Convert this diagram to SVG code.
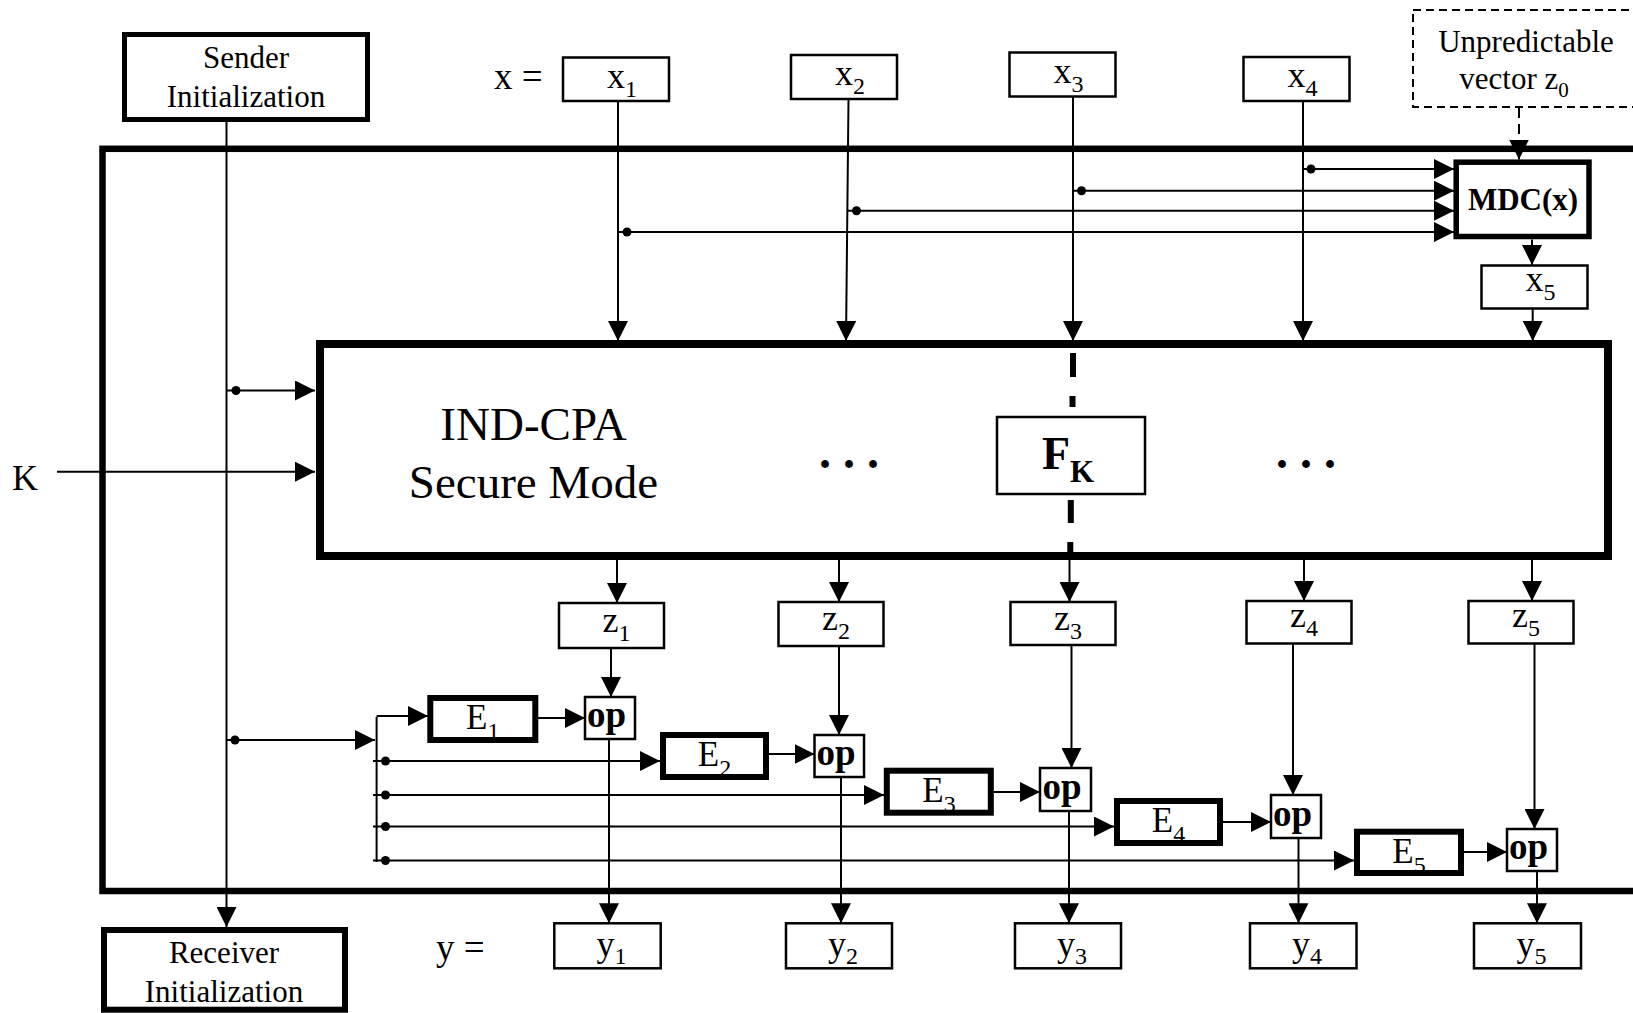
<svg xmlns="http://www.w3.org/2000/svg" width="1633" height="1013" viewBox="0 0 1633 1013">
<style>
text{font-family:"Liberation Serif","Times New Roman",serif;fill:#000}
.lbl{font-size:31px;text-anchor:middle}
.var{font-size:36px;text-anchor:middle}
.sub{font-size:24px}
.bold{font-weight:bold}
.thin{fill:#fff;stroke:#000;stroke-width:2.5}
.thick{fill:#fff;stroke:#000;stroke-width:6}
.ln{stroke:#000;stroke-width:2;fill:none}
.arr{stroke:#000;stroke-width:2;fill:none;marker-end:url(#ah)}
.dot{fill:#000}
</style>
<defs>
<marker id="ah" markerUnits="userSpaceOnUse" markerWidth="20" markerHeight="20" viewBox="0 0 20 20" refX="20" refY="10" orient="auto"><path d="M0,0 L20,10 L0,20 z" fill="#000"/></marker>
</defs>
<rect width="1633" height="1013" fill="#fff"/>

<g id="system-boundary">
<rect x="102.5" y="148.8" width="1600" height="742.2" fill="none" stroke="#000" stroke-width="6.5"/>
</g>

<g id="connectors">
<line class="arr" x1="226.5" y1="122" x2="226.5" y2="927"/>
<circle class="dot" cx="236" cy="390.5" r="4.5"/>
<line class="arr" x1="226.5" y1="390.5" x2="315" y2="390.5"/>
<line class="arr" x1="57" y1="471.7" x2="315" y2="471.7"/>
<circle class="dot" cx="235" cy="740" r="4.5"/>
<line class="arr" x1="226.5" y1="740" x2="375" y2="740"/>
<line class="ln" x1="376.6" y1="717" x2="376.6" y2="862"/>
<line class="arr" x1="376.6" y1="716" x2="428" y2="716"/>
<circle class="dot" cx="385.5" cy="761" r="4.5"/>
<circle class="dot" cx="385.5" cy="795" r="4.5"/>
<circle class="dot" cx="385.5" cy="826.5" r="4.5"/>
<circle class="dot" cx="385.5" cy="860.5" r="4.5"/>
<line class="arr" x1="373" y1="761" x2="660" y2="761"/>
<line class="arr" x1="373" y1="795" x2="884" y2="795"/>
<line class="arr" x1="373" y1="826.5" x2="1114" y2="826.5"/>
<line class="arr" x1="373" y1="860.5" x2="1354" y2="860.5"/>
<line class="arr" x1="618" y1="101" x2="618" y2="341"/>
<line class="arr" x1="848.5" y1="99" x2="846" y2="341"/>
<line class="arr" x1="1073" y1="97" x2="1073" y2="341"/>
<line class="arr" x1="1303" y1="101" x2="1303" y2="341"/>
<circle class="dot" cx="1311" cy="169" r="4.5"/>
<line class="arr" x1="1303" y1="169" x2="1454" y2="169"/>
<circle class="dot" cx="1081.5" cy="190.7" r="4.5"/>
<line class="arr" x1="1073" y1="190.7" x2="1454" y2="190.7"/>
<circle class="dot" cx="856.5" cy="210.7" r="4.5"/>
<line class="arr" x1="847.5" y1="210.7" x2="1454" y2="210.7"/>
<circle class="dot" cx="627" cy="232" r="4.5"/>
<line class="arr" x1="618" y1="232" x2="1454" y2="232"/>
<line class="arr" x1="1519" y1="108" x2="1519" y2="159.5" stroke-dasharray="10 6"/>
<line class="arr" x1="1532" y1="239.5" x2="1532" y2="265"/>
<line class="arr" x1="1532.7" y1="308.5" x2="1532.7" y2="341"/>
<line x1="1073" y1="353" x2="1073" y2="377" stroke="#000" stroke-width="6"/>
<line x1="1072.5" y1="396" x2="1072.5" y2="407" stroke="#000" stroke-width="6"/>
<line x1="1070.8" y1="500" x2="1070.8" y2="523" stroke="#000" stroke-width="6"/>
<line x1="1070.3" y1="542" x2="1070.3" y2="553" stroke="#000" stroke-width="6"/>
<line class="arr" x1="617" y1="560" x2="617" y2="603"/>
<line class="arr" x1="839" y1="560" x2="839" y2="602"/>
<line class="arr" x1="1069.5" y1="553" x2="1069.5" y2="602"/>
<line class="arr" x1="1304" y1="560" x2="1304" y2="601"/>
<line class="arr" x1="1532" y1="560" x2="1532" y2="601"/>
<line class="arr" x1="611" y1="648" x2="611" y2="697"/>
<line class="arr" x1="839" y1="646" x2="839" y2="735"/>
<line class="arr" x1="1071.5" y1="645" x2="1071.5" y2="768"/>
<line class="arr" x1="1293" y1="643.5" x2="1293" y2="795"/>
<line class="arr" x1="1534.5" y1="643.5" x2="1534.5" y2="829"/>
<line class="arr" x1="538" y1="718" x2="585" y2="718"/>
<line class="arr" x1="769" y1="754" x2="814.5" y2="754"/>
<line class="arr" x1="994" y1="792" x2="1040" y2="792"/>
<line class="arr" x1="1223" y1="822" x2="1271" y2="822"/>
<line class="arr" x1="1464" y1="852" x2="1507" y2="852"/>
<line class="arr" x1="609" y1="739" x2="609" y2="923.3"/>
<line class="arr" x1="841" y1="777" x2="841" y2="923.3"/>
<line class="arr" x1="1069" y1="811" x2="1069" y2="923.3"/>
<line class="arr" x1="1298.5" y1="838" x2="1298.5" y2="923.3"/>
<line class="arr" x1="1537" y1="871" x2="1537" y2="923.3"/>
</g>

<g id="sender">
<rect x="124.5" y="34.5" width="243" height="85" fill="#fff" stroke="#000" stroke-width="5"/>
<text class="lbl" x="246" y="68">Sender</text>
<text class="lbl" x="246" y="107">Initialization</text>
</g>

<g id="receiver">
<rect x="104" y="930" width="241" height="79.7" fill="#fff" stroke="#000" stroke-width="6"/>
<text class="lbl" x="224" y="963">Receiver</text>
<text class="lbl" x="224" y="1002">Initialization</text>
</g>

<g id="labels">
<text x="494" y="89" style="font-size:37px">x =</text>
<text x="436" y="960" style="font-size:37px">y =</text>
<text x="12" y="490" style="font-size:36px">K</text>
</g>

<g id="x1"><rect class="thin" x="563" y="57.5" width="106" height="43.5"/><text class="var" x="622" y="88">x<tspan class="sub" dy="9">1</tspan></text></g>
<g id="x2"><rect class="thin" x="791" y="55" width="106" height="44"/><text class="var" x="850" y="85">x<tspan class="sub" dy="9">2</tspan></text></g>
<g id="x3"><rect class="thin" x="1009.5" y="52.5" width="106" height="44"/><text class="var" x="1068.5" y="83">x<tspan class="sub" dy="9">3</tspan></text></g>
<g id="x4"><rect class="thin" x="1243.5" y="57" width="106" height="44"/><text class="var" x="1302.5" y="87">x<tspan class="sub" dy="9">4</tspan></text></g>
<g id="x5"><rect class="thin" x="1481.5" y="265.5" width="106" height="43"/><text class="var" x="1540.5" y="291">x<tspan class="sub" dy="9">5</tspan></text></g>

<g id="z0">
<rect x="1413" y="10" width="260" height="97" fill="none" stroke="#000" stroke-width="2" stroke-dasharray="8 5"/>
<text class="lbl" x="1526" y="52">Unpredictable</text>
<text class="lbl" x="1514" y="89">vector z<tspan style="font-size:21px" dy="8">0</tspan></text>
</g>

<g id="mdc">
<rect x="1456.2" y="162.2" width="132.8" height="74.3" fill="#fff" stroke="#000" stroke-width="5.5"/>
<text class="bold" x="1523" y="210" style="font-size:31px;text-anchor:middle">MDC(x)</text>
</g>

<g id="ind-cpa">
<rect x="320" y="344" width="1288" height="212" fill="none" stroke="#000" stroke-width="8"/>
<text x="533.5" y="440" style="font-size:47px;text-anchor:middle">IND-CPA</text>
<text x="533.5" y="498" style="font-size:47px;text-anchor:middle">Secure Mode</text>
<text class="bold" x="819" y="468" style="font-size:48px">. . .</text>
<text class="bold" x="1276" y="468" style="font-size:48px">. . .</text>
</g>

<g id="fk">
<rect class="thin" x="997" y="417" width="148" height="77"/>
<text class="bold" x="1068" y="469" style="font-size:46px;text-anchor:middle">F<tspan dy="13" style="font-size:31px">K</tspan></text>
</g>

<g id="z1"><rect class="thin" x="559" y="603" width="105" height="45"/><text class="var" x="616.5" y="632">z<tspan class="sub" dy="9">1</tspan></text></g>
<g id="z2"><rect class="thin" x="778.5" y="602" width="105" height="44"/><text class="var" x="836" y="630">z<tspan class="sub" dy="9">2</tspan></text></g>
<g id="z3"><rect class="thin" x="1010.5" y="602" width="105" height="43"/><text class="var" x="1068" y="630">z<tspan class="sub" dy="9">3</tspan></text></g>
<g id="z4"><rect class="thin" x="1246.5" y="601" width="105" height="42.5"/><text class="var" x="1304" y="627">z<tspan class="sub" dy="9">4</tspan></text></g>
<g id="z5"><rect class="thin" x="1468.5" y="601" width="105" height="42.5"/><text class="var" x="1526" y="627">z<tspan class="sub" dy="9">5</tspan></text></g>

<g id="e1"><rect class="thick" x="430.3" y="698" width="105" height="42"/><text x="482.8" y="729" style="font-size:35px;text-anchor:middle">E<tspan class="sub" dy="10">1</tspan></text></g>
<g id="e2"><rect class="thick" x="663" y="735" width="103" height="42"/><text x="714.5" y="766" style="font-size:35px;text-anchor:middle">E<tspan class="sub" dy="10">2</tspan></text></g>
<g id="e3"><rect class="thick" x="886.8" y="770.7" width="104" height="42"/><text x="939" y="801.7" style="font-size:35px;text-anchor:middle">E<tspan class="sub" dy="10">3</tspan></text></g>
<g id="e4"><rect class="thick" x="1117" y="801" width="103" height="42"/><text x="1168.5" y="832" style="font-size:35px;text-anchor:middle">E<tspan class="sub" dy="10">4</tspan></text></g>
<g id="e5"><rect class="thick" x="1357" y="831.7" width="104" height="41.3"/><text x="1409" y="862.7" style="font-size:35px;text-anchor:middle">E<tspan class="sub" dy="10">5</tspan></text></g>

<g id="op1"><rect class="thin" x="585" y="697" width="50" height="42"/><text class="bold" x="587" y="727" style="font-size:37px">op</text></g>
<g id="op2"><rect class="thin" x="814.5" y="735" width="49.5" height="42"/><text class="bold" x="816.5" y="765" style="font-size:37px">op</text></g>
<g id="op3"><rect class="thin" x="1040" y="768" width="51" height="43"/><text class="bold" x="1042.5" y="799" style="font-size:37px">op</text></g>
<g id="op4"><rect class="thin" x="1271" y="795" width="50" height="43"/><text class="bold" x="1273" y="826" style="font-size:37px">op</text></g>
<g id="op5"><rect class="thin" x="1507" y="829" width="50" height="42"/><text class="bold" x="1509" y="859" style="font-size:37px">op</text></g>

<g id="y1"><rect class="thin" x="554.3" y="923.3" width="106.4" height="45"/><text class="var" x="611.5" y="956">y<tspan class="sub" dy="8">1</tspan></text></g>
<g id="y2"><rect class="thin" x="786" y="923.3" width="106" height="45"/><text class="var" x="843" y="956">y<tspan class="sub" dy="8">2</tspan></text></g>
<g id="y3"><rect class="thin" x="1015" y="923.3" width="106" height="45"/><text class="var" x="1072" y="956">y<tspan class="sub" dy="8">3</tspan></text></g>
<g id="y4"><rect class="thin" x="1250" y="923.3" width="106.5" height="45"/><text class="var" x="1307" y="956">y<tspan class="sub" dy="8">4</tspan></text></g>
<g id="y5"><rect class="thin" x="1474" y="923.3" width="107" height="45"/><text class="var" x="1531.5" y="956">y<tspan class="sub" dy="8">5</tspan></text></g>
</svg>
